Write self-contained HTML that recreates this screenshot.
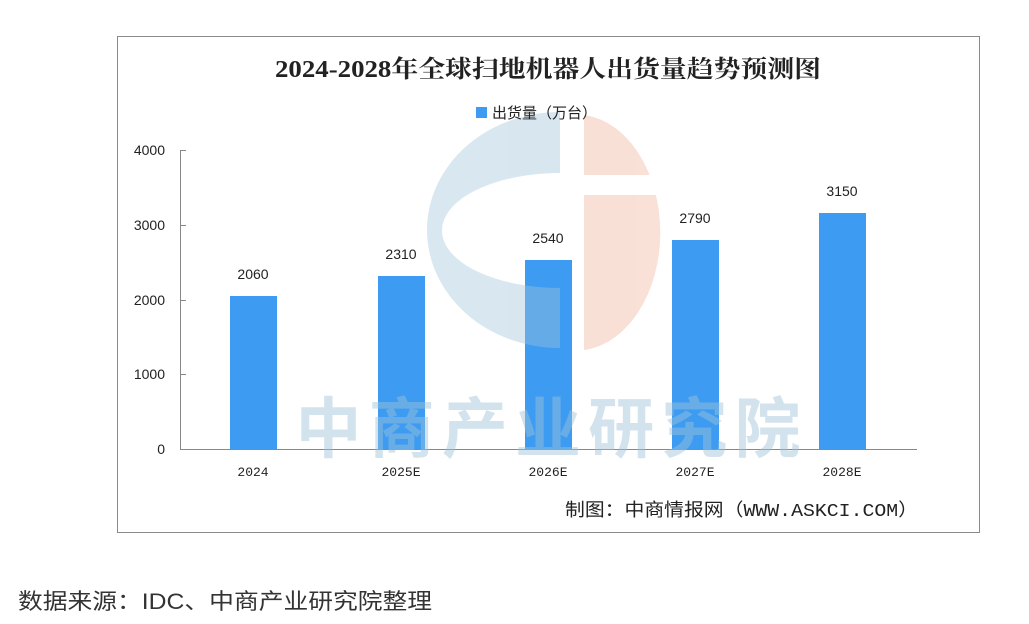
<!DOCTYPE html>
<html><head><meta charset="utf-8"><style>
body{margin:0;background:#fff;width:1029px;height:624px;overflow:hidden;font-family:"Liberation Sans","Noto Sans CJK SC",sans-serif;}
</style></head><body>
<svg width="1029" height="624" xmlns="http://www.w3.org/2000/svg" style="position:absolute;left:0;top:0">
<rect x="117.5" y="36.5" width="862" height="496" fill="#fff" stroke="#8a8a8a" stroke-width="1"/>
<g stroke="#888" stroke-width="1">
<line x1="180.5" y1="150" x2="180.5" y2="449.5"/>
<line x1="180" y1="449.5" x2="917" y2="449.5"/>
<line x1="180" y1="150.5" x2="186" y2="150.5"/>
<line x1="180" y1="225.5" x2="186" y2="225.5"/>
<line x1="180" y1="300.5" x2="186" y2="300.5"/>
<line x1="180" y1="374.5" x2="186" y2="374.5"/>
</g>
<g fill="#3d9cf1">
<rect x="230" y="296" width="47" height="153"/>
<rect x="378" y="276" width="47" height="173"/>
<rect x="525" y="260" width="47" height="189"/>
<rect x="672" y="240" width="47" height="209"/>
<rect x="819" y="213" width="47" height="236"/>
</g>
<g opacity="0.4">
<path d="M560,112 A133,118 0 0 0 560,348 L560,288 A118,57.5 0 0 1 560,173 Z" fill="#9fc3d9"/>
<path d="M584,115 A84,118 0 0 1 584,350 Z" fill="#f0b49a"/>
</g>
<rect x="584" y="175" width="90" height="20" fill="#fff"/>
<text x="548" y="452" text-anchor="middle" font-size="66" font-weight="bold" fill="#9fc3d9" opacity="0.45" font-family="'Noto Sans CJK SC',sans-serif" textLength="505" lengthAdjust="spacing">中商产业研究院</text>
<text x="548" y="77" text-anchor="middle" font-size="24" font-weight="bold" fill="#222" font-family="'Liberation Serif','Noto Serif CJK SC',serif" textLength="546" lengthAdjust="spacingAndGlyphs">2024-2028年全球扫地机器人出货量趋势预测图</text>
<rect x="476" y="107" width="11" height="11" fill="#3d9cf1"/>
<text x="492" y="118" font-size="15" fill="#222">出货量（万台）</text>
<g font-size="14" fill="#222" text-anchor="end">
<text x="165" y="155">4000</text><text x="165" y="230">3000</text><text x="165" y="305">2000</text><text x="165" y="379">1000</text><text x="165" y="454">0</text>
</g>
<g font-size="14" fill="#222" text-anchor="middle">
<text x="253" y="279">2060</text><text x="401" y="259">2310</text><text x="548" y="243">2540</text><text x="695" y="223">2790</text><text x="842" y="196">3150</text>
</g>
<g font-size="13" fill="#222" text-anchor="middle" font-family="'Liberation Mono',monospace">
<text x="253" y="476">2024</text><text x="401" y="476">2025E</text><text x="548" y="476">2026E</text><text x="695" y="476">2027E</text><text x="842" y="476">2028E</text>
</g>
<text x="565" y="516" font-size="18" fill="#222" font-family="'Liberation Mono','Noto Sans CJK SC',monospace" textLength="353" lengthAdjust="spacingAndGlyphs">制图：中商情报网（WWW.ASKCI.COM）</text>
<text x="18" y="609" font-size="22" fill="#333" textLength="414" lengthAdjust="spacingAndGlyphs">数据来源：IDC、中商产业研究院整理</text>
</svg>
</body></html>
